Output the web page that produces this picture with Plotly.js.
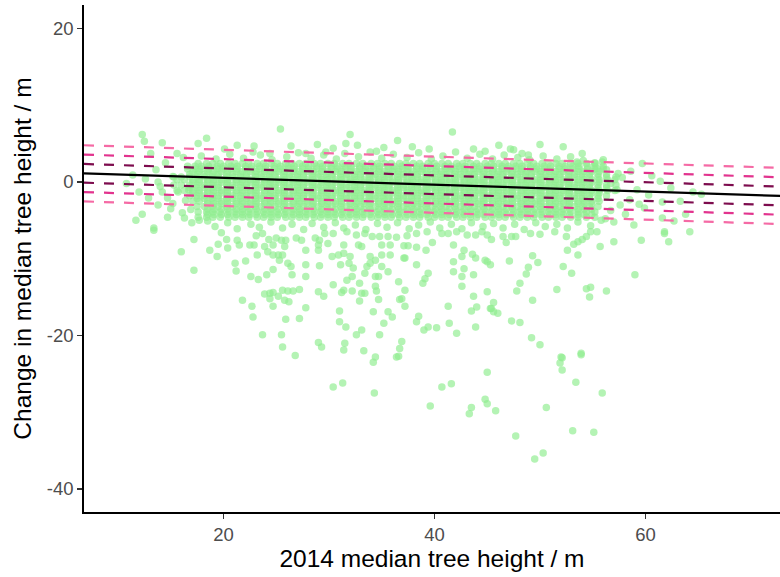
<!DOCTYPE html>
<html>
<head>
<meta charset="utf-8">
<script src="https://cdn.plot.ly/plotly-3.0.1.min.js"></script>
<style>html,body{margin:0;padding:0;background:#fff;}#chart{width:780px;height:577px;}</style>
</head>
<body>
<div id="chart"></div>
<script>
// ---- data ----
const xTickVals = [20, 40, 60];
const yTickVals = [-40, -20, 0, 20];
const yTickText = ["-40", "-20", "0", "20"];
const xTitle = "2014 median tree height / m";
const yTitle = "Change in median tree height / m";

// fitted line and band offsets
const fitIntercept = 1.43;
const fitSlope = -0.0447;
const bandOffsets = [1.22, 2.44, 3.66];
const bandColors = ["#7d0c4e", "#e2338e", "#f56aa5"];

// dense core of the cloud, row by row (y level + x positions)
const coreP1 = [17.6,18.4,19.0,19.7,20.5,21.1,21.8,22.4,23.2,23.8,24.5,25.1,25.9,26.5,27.2,27.8,28.6,29.2,29.9,30.5,31.3,31.9,32.6,33.2,34.0,34.6,35.3,35.9,36.7,37.3,38.0,38.6,39.4,40.0,40.7,41.3,42.1,42.7,43.4,44.0,44.8,45.4,46.1,46.7,47.5,48.1,48.8,49.4,50.2,50.8,51.5,52.1,52.9,53.6,54.4,55.2];
const coreP2 = [16.6,17.3,17.9,18.6,19.4,20.0,20.7,21.3,22.1,22.7,23.4,24.0,24.8,25.4,26.1,26.7,27.5,28.1,28.8,29.4,30.2,30.8,31.5,32.1,32.9,33.5,34.2,34.8,35.6,36.2,36.9,37.5,38.3,38.9,39.6,40.2,41.0,41.6,42.3,42.9,43.7,44.3,45.0,45.6,46.4,47.0,47.7,48.3,49.1,49.7,50.4,51.0,51.8,52.4,53.1,53.7,54.5,55.2,56.0];
const coreP3 = [15.3,16.0,16.8,17.5,18.2,18.9,19.5,20.3,20.9,21.6,22.2,23.0,23.6,24.3,24.9,25.7,26.3,27.0,27.6,28.4,29.0,29.7,30.3,31.1,31.7,32.4,33.0,33.8,34.4,35.1,35.7,36.5,37.1,37.8,38.4,39.2,39.8,40.5,41.1,41.9,42.5,43.2,43.8,44.6,45.2,45.9,46.5,47.3,47.9,48.6,49.2,50.0,50.6,51.3,51.9,52.7,53.3,54.0,54.7,55.5,56.3,57.2];
const coreP4 = [15.6,16.3,17.1,17.7,18.5,19.1,19.8,20.4,21.2,21.8,22.5,23.1,23.9,24.5,25.2,25.8,26.6,27.2,27.9,28.5,29.3,29.9,30.6,31.2,32.0,32.6,33.3,33.9,34.7,35.3,36.0,36.6,37.4,38.0,38.7,39.3,40.1,40.7,41.4,42.0,42.8,43.4,44.1,44.7,45.5,46.1,46.8,47.4,48.2,48.8,49.5,50.1,50.9,51.5,52.2,52.8,53.6,54.2,54.9,55.6,56.4,57.1];
const coreP3b = [16.8,17.5,18.2,18.9,19.5,20.3,20.9,21.6,22.2,23.0,23.6,24.3,24.9,25.7,26.3,27.0,27.6,28.4,29.0,29.7,30.3,31.1,31.7,32.4,33.0,33.8,34.4,35.1,35.7,36.5,37.1,37.8,38.4,39.2,39.8,40.5,41.1,41.9,42.5,43.2,43.8,44.6,45.2,45.9,46.5,47.3,47.9,48.6,49.2,50.0,50.6,51.3,51.9,52.7,53.3,54.0,54.7,55.5,56.3];
const coreP4b = [17.1,17.7,18.5,19.1,19.8,20.4,21.2,21.8,22.5,23.1,23.9,24.5,25.2,25.8,26.6,27.2,27.9,28.5,29.3,29.9,30.6,31.2,32.0,32.6,33.3,33.9,34.7,35.3,36.0,36.6,37.4,38.0,38.7,39.3,40.1,40.7,41.4,42.0,42.8,43.4,44.1,44.7,45.5,46.1,46.8,47.4,48.2,48.8,49.5,50.1,50.9,51.5,52.2,52.8,53.6,54.2,54.9,55.6];
const coreP3c = [17.5,18.2,18.9,19.5,20.3,20.9,21.6,22.2,23.0,23.6,24.3,24.9,25.7,26.3,27.0,27.6,28.4,29.0,29.7,30.3,31.1,31.7,32.4,33.0,33.8,34.4,35.1,35.7,36.5,37.1,37.8,38.4,39.2,39.8,40.5,41.1,41.9,42.5,43.2,43.8,44.6,45.2,45.9,46.5,47.3,47.9,48.6,49.2,50.0,50.6,51.3,51.9,52.7,53.3,54.0,54.7,55.5];
const coreP4c = [18.5,19.1,19.8,20.4,21.2,21.8,22.5,23.1,23.9,24.5,25.2,25.8,26.6,27.2,27.9,28.5,29.3,29.9,30.6,31.2,32.0,32.6,33.3,33.9,34.7,35.3,36.0,36.6,37.4,38.0,38.7,39.3,40.1,40.7,41.4,42.0,42.8,43.4,44.1,44.7,45.5,46.1,46.8,47.4,48.2,48.8,49.5,50.1,50.9,51.5,52.2,52.8,53.6,54.2,54.9];
const coreRowY = [2.4, 2.05, 1.7, 1.35, 1.0, 0.65, 0.3, -0.05, -0.4, -0.75, -1.1, -1.45, -1.8, -2.15, -2.5, -2.85, -3.2, -3.55, -3.9, -4.25, -4.6];
const coreRowX = [coreP1, coreP2, coreP2, coreP4b, coreP3b, coreP3, coreP4, coreP4b, coreP3, coreP3b, coreP4, coreP4b, coreP3b, coreP3c, coreP4b, coreP4c, coreP3c, coreP4c, coreP1, coreP4c, coreP1];

// individually read points [x, y]
const upperPts = [[16.2,3.2],[17.9,3.4],[19.3,3.0],[20.6,3.6],[21.9,3.1],[23.5,3.5],[24.6,2.9],[26.0,3.3],[27.1,3.8],[28.3,3.1],[29.5,3.5],[30.7,3.0],[31.5,3.7],[32.8,3.3],[33.9,3.9],[35.0,3.1],[36.1,3.6],[37.4,3.2],[38.5,3.8],[39.7,3.0],[40.8,3.4],[42.0,3.9],[43.1,3.1],[44.3,3.6],[45.5,3.0],[46.6,3.5],[47.9,3.2],[49.0,2.9],[50.3,3.4],[51.6,3.0],[52.9,3.3],[54.1,2.8],[55.2,2.5],[56.0,2.9],
 [12.3,6.2],[12.5,5.3],[14.2,5.1],[13.1,3.7],[15.6,3.7],[18.4,5.7],[17.6,5.0],[22.9,4.7],[22.8,3.9],[26.4,4.7],[25.4,6.9],[24.4,3.7],[27.8,3.7],[32.0,6.2],[36.5,5.4],[41.7,6.5],[31.6,5.0],[32.7,4.8],[43.7,4.3],[46.1,4.8],[47.2,4.3],[39.5,4.3],[29.7,3.9],[30.4,4.4],[34.5,4.0],[50.0,4.9],[52.2,4.6],[54.0,3.7],[48.3,3.7],[48.9,3.5],[47.5,4.2],[53.5,2.6],[55.9,2.6],[35.2,4.5],[37.9,4.6],[44.8,4.0],[20.1,4.3],[21.3,4.8],[28.9,4.9]];
const sidePts = [[57.4,1.1],[59.7,2.4],[61.4,0.1],[56.3,1.6],[55.4,1.8],[59.2,-1.0],[58.5,-2.3],[59.4,-2.9],[59.9,-3.4],[58.1,-4.2],[57.6,-3.0],[57.3,-1.0],[61.6,-2.6],[63.3,-2.5],[64.5,-1.3],[61.6,-4.7],[62.7,-5.1],[61.8,-6.5],[56.7,-3.7],[56.7,-0.2],[57.8,0.6],[58.6,1.4],[57.0,-5.2],[56.2,-4.8],[58.9,-5.6],[60.3,-1.7],[62.4,-0.8],[60.6,0.8],[64.2,-6.5],[63.8,-4.2],[65.3,-1.6],
 [10.8,-0.2],[11.4,0.9],[13.6,1.6],[13.8,0.0],[14.2,-1.3],[14.7,-2.1],[15.7,-1.3],[15.2,-2.8],[16.4,-2.4],[12.9,-2.1],[12.0,-1.3],[13.8,-3.0],[11.7,-5.0],[12.3,-4.2],[13.4,-6.0],[14.7,-4.6],[16.3,-4.7],[17.0,-5.3],[17.7,-5.0],[18.5,-5.1],[14.5,2.5],[15.2,0.7],[16.9,-3.6],[16.1,-4.0],[15.0,-3.5],[12.6,0.4],[14.0,-0.6],[16.7,-1.0]];
const midPts = [[19.2,-5.8],[20.4,-5.3],[21.3,-6.1],[22.6,-5.5],[23.4,-5.9],[24.5,-5.2],[25.6,-6.0],[26.5,-5.5],[27.6,-6.2],[28.4,-5.4],[29.5,-5.9],[30.6,-5.3],[31.4,-6.0],[32.5,-5.6],[33.5,-6.2],[34.6,-5.4],[35.5,-5.9],[36.5,-5.3],[37.6,-6.1],[38.5,-5.6],[39.6,-5.2],[40.5,-6.0],[41.6,-5.5],[42.6,-6.1],[43.5,-5.3],[44.6,-5.8],[45.6,-5.4],[46.5,-6.0],[47.6,-5.5],[48.5,-6.2],[49.6,-5.3],[50.5,-5.8],[51.6,-5.5],[52.6,-6.0],[53.6,-5.2],[54.8,-5.7],[55.8,-5.0]];
const lowerLeftPts = [[13.4,-6.3],[17.2,-7.5],[16.0,-9.1],[17.2,-11.5],[18.7,-8.9],[19.4,-9.7],[19.5,-8.1],[20.4,-8.6],[20.3,-7.5],[19.8,-6.6],[21.3,-7.6],[21.5,-8.2],[21.1,-10.6],[21.2,-11.6],[22.1,-10.3],[22.5,-8.2],[22.9,-8.2],[23.2,-9.5],[23.1,-7.0],[23.7,-6.7],[23.9,-8.4],[24.3,-7.5],[24.2,-9.1],[24.7,-8.2],[25.0,-7.3],[25.5,-7.6],[25.9,-7.6],[25.8,-8.4],[25.2,-9.5],[24.7,-9.5],[25.3,-10.2],[26.1,-10.6],[26.4,-11.0],[25.6,-9.5],[26.9,-7.3],[27.4,-7.6],[27.8,-8.9],[27.8,-10.8],[26.5,-12.1],[24.7,-11.4],[24.1,-12.1],[23.3,-12.7],[22.6,-12.3],[21.8,-15.4],[22.7,-16.2],[22.8,-17.6],[23.7,-19.9],[25.5,-19.9],[25.6,-21.5],[26.8,-22.6],[25.9,-17.9],[27.2,-17.8],[27.8,-16.4],[24.7,-16.2],[23.9,-14.6],[24.4,-14.5],[24.7,-14.4],[25.6,-14.1],[26.1,-14.2],[26.6,-14.2],[27.2,-14.0],[24.4,-15.2],[25.2,-14.9],[25.8,-15.4],[26.2,-15.6],[27.8,-12.3]];
const lowerMidPts = [[28.7,-7.3],[29.1,-7.6],[29.6,-6.7],[30.4,-6.7],[31.7,-6.5],[32.6,-6.9],[33.4,-6.7],[34.1,-7.1],[34.8,-7.1],[35.6,-7.1],[36.4,-7.2],[37.4,-7.0],[38.3,-6.7],[39.3,-6.5],[40.7,-6.7],[41.3,-6.7],[42.1,-6.5],[43.1,-6.9],[43.9,-6.9],[44.5,-6.5],[45.0,-6.9],
 [29.0,-8.2],[29.9,-8.0],[31.4,-8.2],[32.8,-8.2],[33.1,-8.4],[35.0,-8.2],[35.8,-8.2],[37.1,-8.3],[37.5,-8.3],[38.3,-8.5],[39.2,-8.9],[39.8,-7.9],[41.8,-8.2],[42.8,-8.9],[43.6,-9.4],[43.9,-9.9],[44.8,-10.2],
 [29.0,-8.9],[30.3,-9.7],[30.9,-9.5],[31.4,-9.3],[32.0,-9.7],[33.9,-9.7],[34.4,-10.2],[35.0,-9.5],[35.8,-9.5],[37.2,-9.9],[38.3,-10.8],[41.8,-10.4],[42.6,-9.7],[41.8,-11.7],[42.8,-11.3],[45.0,-10.4],
 [29.1,-10.9],[31.1,-10.8],[31.9,-10.6],[32.3,-11.2],[33.6,-11.0],[33.9,-10.6],[35.0,-11.0],[35.6,-11.7],[37.1,-9.9],
 [31.7,-12.8],[32.2,-12.3],[32.9,-13.2],[33.4,-11.9],[34.4,-12.3],[34.7,-12.3],[36.6,-13.0],[39.4,-11.9],[39.1,-12.6],[38.9,-13.2],[42.6,-12.3],[42.6,-13.6],[43.7,-12.1],
 [30.4,-13.4],[31.4,-14.1],[31.2,-14.4],[32.2,-14.2],[33.1,-14.5],[33.4,-14.5],[34.4,-13.6],[34.5,-14.2],[37.2,-14.1],[29.0,-14.3],[29.5,-14.9],[45.0,-14.3],[43.7,-14.9],
 [32.9,-15.5],[34.7,-15.3],[36.7,-15.3],[36.9,-15.2],[37.2,-16.2],[41.3,-16.2],[43.5,-16.8],[44.0,-16.3],[45.3,-16.5],
 [31.0,-16.8],[34.2,-16.9],[35.6,-16.9],[36.0,-17.6],[35.2,-18.4],[38.5,-17.5],[38.3,-18.2],[39.0,-19.3],[39.4,-18.9],[40.2,-19.0],[41.4,-18.4],[42.1,-19.7],[43.9,-18.9],
 [31.0,-18.2],[31.6,-18.9],[32.6,-19.9],[33.1,-19.3],[34.8,-19.9],[29.0,-20.9],[29.3,-21.5],[31.5,-21.0],[31.4,-21.9],[36.9,-20.8],[36.7,-21.7],[36.6,-22.7],[33.3,-22.0],[34.4,-22.8]];
const lowerRightPts = [[45.4,-7.5],[46.5,-7.1],[46.8,-7.9],[47.3,-7.1],[47.7,-7.1],[49.1,-6.7],[50.0,-6.8],[51.4,-6.5],[52.5,-7.1],[53.2,-8.1],[53.6,-7.8],[54.0,-7.5],[54.4,-7.1],[54.8,-6.5],[55.4,-6.5],[52.6,-8.9],[53.6,-9.5],[55.7,-8.4],[57.0,-7.8],[59.6,-7.6],[61.8,-6.7],[62.2,-7.8],
 [47.1,-10.3],[49.3,-9.6],[49.8,-10.5],[48.9,-11.1],[48.7,-12.0],[52.2,-11.0],[53.0,-11.9],[59.0,-12.1],[45.3,-10.8],
 [48.1,-13.2],[47.8,-14.2],[51.6,-14.0],[54.4,-13.9],[54.8,-13.7],[54.7,-15.0],[56.3,-14.2],[49.3,-15.4],
 [45.6,-15.7],[45.4,-16.5],[45.6,-16.9],[46.0,-17.1],[47.3,-18.1],[48.1,-18.3],[49.2,-20.3],[50.0,-21.2],[52.0,-22.8],[53.9,-22.3]];
const tailPts = [[34.2,-23.5],[30.4,-26.7],[31.3,-26.2],[34.3,-27.5],[36.4,-22.8],[45.0,-24.8],[40.7,-26.7],[41.6,-26.3],[39.6,-29.2],[43.5,-29.4],[43.3,-30.2],[44.8,-28.3],[45.0,-28.9],[45.8,-29.8],[50.6,-29.4],[47.7,-33.1],[50.3,-35.3],[49.5,-36.1],[53.1,-32.4],[55.1,-32.6],[55.9,-27.5],[53.4,-26.1],[52.1,-22.9],[51.9,-23.6],[52.1,-24.5],[53.9,-22.5]];

// ---- build traces ----
const ptsX = [], ptsY = [];
coreRowY.forEach((y, i) => coreRowX[i].forEach(x => { ptsX.push(x); ptsY.push(y); }));
[upperPts, sidePts, midPts, lowerLeftPts, lowerMidPts, lowerRightPts, tailPts].forEach(list =>
  list.forEach(p => { ptsX.push(p[0]); ptsY.push(p[1]); }));

const xRange = [6.78, 72.75];
const yRange = [-43.0, 23.06];

const traces = [{
  type: "scatter", mode: "markers", x: ptsX, y: ptsY,
  marker: { size: 7.5, color: "rgba(144,238,144,0.68)", line: { width: 0 } },
  hoverinfo: "skip", showlegend: false
}];

const lineY = x => fitIntercept + fitSlope * x;
// dashed bands: outermost first so inner ones sit on top
for (let k = bandOffsets.length - 1; k >= 0; k--) {
  [1, -1].forEach(s => {
    traces.push({
      type: "scatter", mode: "lines",
      x: xRange, y: xRange.map(x => lineY(x) + s * bandOffsets[k]),
      line: { color: bandColors[k], width: 2.2, dash: "10px,10px" },
      hoverinfo: "skip", showlegend: false
    });
  });
}
traces.push({
  type: "scatter", mode: "lines",
  x: xRange, y: xRange.map(lineY),
  line: { color: "#000000", width: 2.2 },
  hoverinfo: "skip", showlegend: false
});

const font = "Liberation Sans, Arial, sans-serif";
const layout = {
  width: 780, height: 577,
  margin: { l: 84, r: 0, t: 5, b: 65, pad: 0 },
  paper_bgcolor: "#ffffff", plot_bgcolor: "#ffffff",
  font: { family: font },
  showlegend: false,
  xaxis: {
    range: xRange, showgrid: false, zeroline: false,
    showline: true, linecolor: "#000000", linewidth: 1.8,
    ticks: "outside", ticklen: 5, tickwidth: 1.5, tickcolor: "#333333",
    tickvals: xTickVals, ticktext: xTickVals.map(String),
    tickfont: { family: font, size: 18.5, color: "#4d4d4d" },
    title: { text: xTitle, font: { family: font, size: 24.5, color: "#000000" }, standoff: 6 },
    automargin: false
  },
  yaxis: {
    range: yRange, showgrid: false, zeroline: false,
    showline: true, linecolor: "#000000", linewidth: 1.8,
    ticks: "outside", ticklen: 5, tickwidth: 1.5, tickcolor: "#333333",
    tickvals: yTickVals, ticktext: yTickText,
    tickfont: { family: font, size: 18.5, color: "#4d4d4d" },
    title: { text: yTitle, font: { family: font, size: 24.5, color: "#000000" }, standoff: 8 },
    automargin: false
  }
};

Plotly.newPlot("chart", traces, layout, { staticPlot: true, displayModeBar: false });
</script>
</body>
</html>
